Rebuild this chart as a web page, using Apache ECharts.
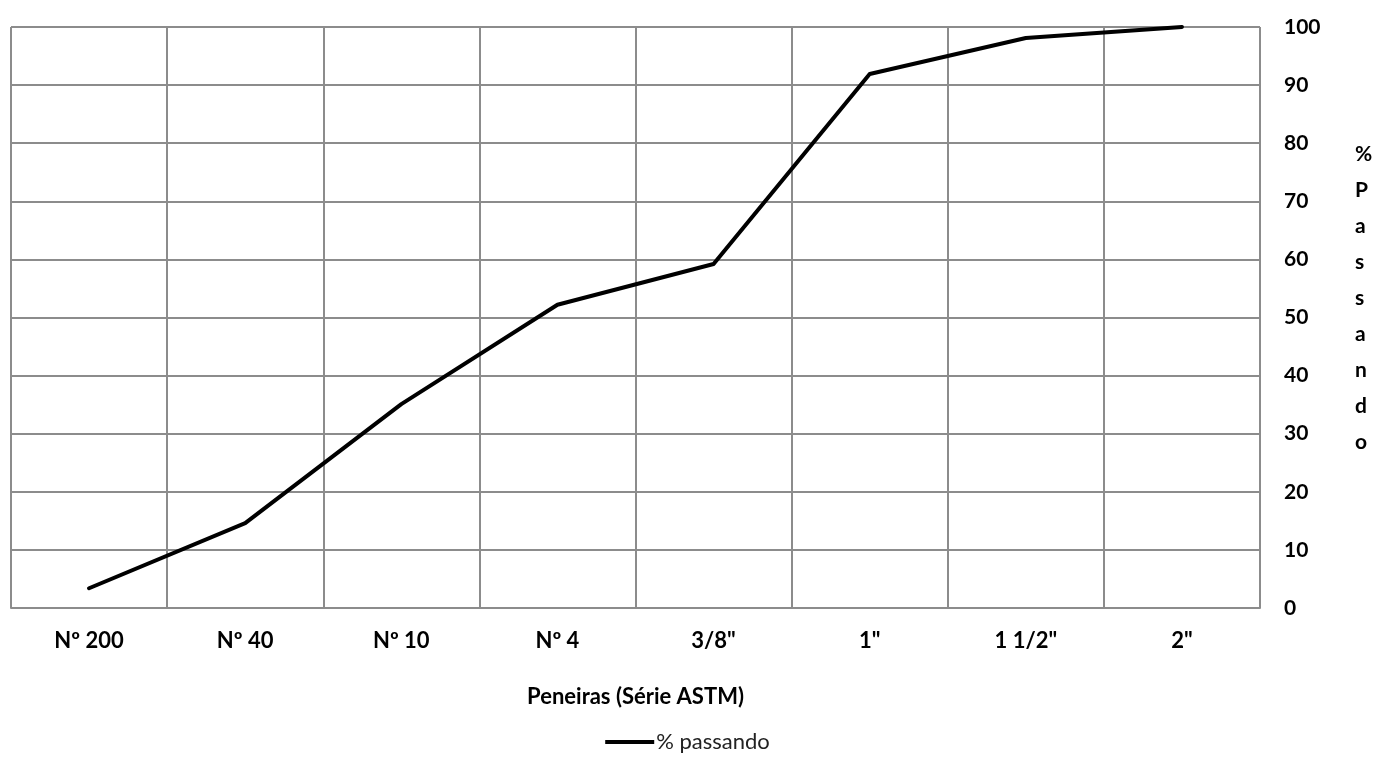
<!DOCTYPE html>
<html>
<head>
<meta charset="utf-8">
<script src="https://cdn.jsdelivr.net/npm/echarts@6/dist/echarts.min.js"></script>
<style>
  html, body { margin: 0; padding: 0; background: #ffffff; }
  #chart { width: 1375px; height: 760px; }
</style>
</head>
<body>
<div id="chart"></div>
<script>
// Sieve sizes (ASTM series) and cumulative percent passing
const sieves = ['Nº 200', 'Nº 40', 'Nº 10', 'Nº 4', '3/8"', '1"', '1 1/2"', '2"'];
const percentPassing = [3.4, 14.6, 35.1, 52.2, 59.2, 91.9, 98.1, 100];
const seriesName = '% passando';
const xTitle = 'Peneiras (Série ASTM)';
const yTitle = '% Passando';

const FONT = 'Lato, "Open Sans", sans-serif';
const GRID_COLOR = '#8c8c8c';

const chart = echarts.init(document.getElementById('chart'));
chart.setOption({
  animation: false,
  backgroundColor: '#ffffff',
  grid: { left: 11, right: 115, top: 27, bottom: 152, containLabel: false },
  legend: {
    bottom: 2,
    left: 'center',
    itemWidth: 49,
    itemHeight: 4,
    itemGap: 10,
    icon: 'rect',
    textStyle: { fontFamily: FONT, fontSize: 22, color: '#222222', padding: [0, 0, 0, -3] },
    data: [{ name: seriesName, icon: 'rect' }]
  },
  xAxis: {
    type: 'category',
    data: sieves,
    boundaryGap: true,
    name: xTitle,
    nameLocation: 'middle',
    nameGap: 78,
    nameTextStyle: { fontFamily: FONT, fontSize: 22, fontWeight: 'bold', color: '#000000' },
    axisLine: { show: true, lineStyle: { color: GRID_COLOR, width: 2 } },
    axisTick: { show: false },
    axisLabel: { margin: 22, fontFamily: FONT, fontSize: 22, fontWeight: 'bold', color: '#000000' },
    splitLine: { show: true, lineStyle: { color: GRID_COLOR, width: 2 } }
  },
  yAxis: {
    type: 'value',
    position: 'right',
    min: 0,
    max: 100,
    interval: 10,
    axisLine: { show: false },
    axisTick: { show: false },
    axisLabel: { margin: 24, align: 'left', fontFamily: FONT, fontSize: 21, fontWeight: 'bold', color: '#000000' },
    splitLine: { show: true, lineStyle: { color: GRID_COLOR, width: 2 } }
  },
  graphic: [{
    type: 'text',
    left: 1355,
    top: 136,
    style: {
      text: yTitle.replace(' ', '').split('').join('\n'),
      font: 'bold 21px ' + FONT,
      fill: '#000000',
      lineHeight: 36,
      align: 'center'
    }
  }],
  series: [{
    name: seriesName,
    type: 'line',
    data: percentPassing,
    showSymbol: false,
    symbol: 'none',
    lineStyle: { color: '#000000', width: 4, join: 'round', cap: 'round' },
    itemStyle: { color: '#000000' }
  }]
});
</script>
</body>
</html>
